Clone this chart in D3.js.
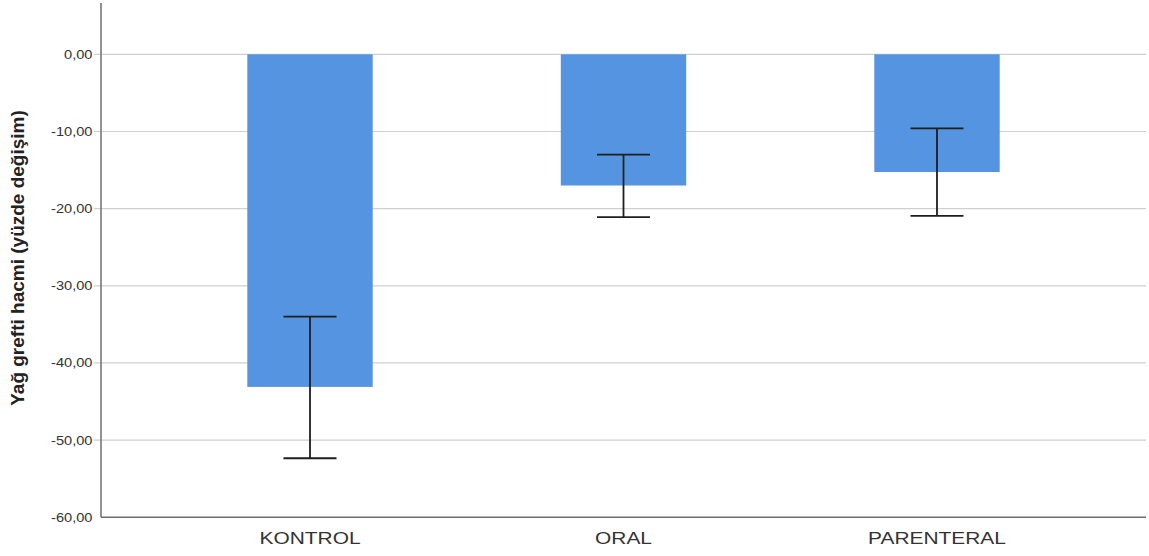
<!DOCTYPE html>
<html>
<head>
<meta charset="utf-8">
<script src="https://cdn.jsdelivr.net/npm/d3@7"></script>
<style>
  html, body { margin: 0; padding: 0; background: #fff; }
  svg { display: block; }
  text { font-family: "Liberation Sans", Arial, sans-serif; }
</style>
</head>
<body>
<svg id="chart" width="1149" height="556"></svg>
<script>
// Group means with their error-bar limits (percent change in fat graft volume)
const categories = ["KONTROL", "ORAL", "PARENTERAL"];
const meanValues = [-43.1, -17.0, -15.25];
const errorLow = [-52.35, -21.1, -20.95];
const errorHigh = [-34.0, -13.0, -9.6];
const tickValues = [0, -10, -20, -30, -40, -50, -60];
const yTitle = "Yağ grefti hacmi (yüzde değişim)";

const svg = d3.select("#chart");
const plot = { left: 101, right: 1146, top: 3, bottom: 517.3 };

const y = d3.scaleLinear().domain([-60, 6.65]).range([plot.bottom, plot.top]);
const x = d3.scaleBand()
  .domain(categories)
  .range([plot.left, plot.right])
  .paddingInner(0.6)
  .paddingOuter(0.4667);

const fmt = v => d3.format(".2f")(v).replace("−", "-").replace(".", ",");

// Horizontal gridlines
svg.append("g")
  .selectAll("line")
  .data(tickValues.filter(v => v !== -60))
  .join("line")
  .attr("x1", plot.left - 7)
  .attr("x2", plot.right)
  .attr("y1", d => y(d))
  .attr("y2", d => y(d))
  .attr("stroke", "#cfcfcf")
  .attr("stroke-width", 1.2);

// Bars
svg.append("g")
  .selectAll("rect")
  .data(categories)
  .join("rect")
  .attr("x", d => x(d))
  .attr("width", x.bandwidth())
  .attr("y", y(0))
  .attr("height", (d, i) => y(meanValues[i]) - y(0))
  .attr("fill", "#5594e1");

// Error bars
const eb = svg.append("g").attr("stroke", "#1e1e1e").attr("stroke-width", 1.8);
const capHalf = 26.5;
categories.forEach((c, i) => {
  const cx = x(c) + x.bandwidth() / 2;
  eb.append("line").attr("x1", cx).attr("x2", cx)
    .attr("y1", y(errorHigh[i])).attr("y2", y(errorLow[i]));
  eb.append("line").attr("x1", cx - capHalf).attr("x2", cx + capHalf)
    .attr("y1", y(errorHigh[i])).attr("y2", y(errorHigh[i]));
  eb.append("line").attr("x1", cx - capHalf).attr("x2", cx + capHalf)
    .attr("y1", y(errorLow[i])).attr("y2", y(errorLow[i]));
});

// Axis lines
svg.append("line")
  .attr("x1", plot.left).attr("x2", plot.left)
  .attr("y1", plot.top).attr("y2", plot.bottom)
  .attr("stroke", "#6e6e6e").attr("stroke-width", 1.5);
svg.append("line")
  .attr("x1", plot.left).attr("x2", plot.right)
  .attr("y1", plot.bottom).attr("y2", plot.bottom)
  .attr("stroke", "#6e6e6e").attr("stroke-width", 1.5);

// Y tick labels
svg.append("g")
  .selectAll("text")
  .data(tickValues)
  .join("text")
  .attr("transform", d => `translate(92.5,${y(d) + 4.5}) scale(1.17,1)`)
  .attr("text-anchor", "end")
  .attr("font-size", 12.5)
  .attr("fill", "#333")
  .text(d => fmt(d));

// Category labels
svg.append("g")
  .selectAll("text")
  .data(categories)
  .join("text")
  .attr("transform", d => `translate(${x(d) + x.bandwidth() / 2},544) scale(1.23,1)`)
  .attr("text-anchor", "middle")
  .attr("font-size", 17)
  .attr("fill", "#333")
  .text(d => d);

// Y axis title
svg.append("text")
  .attr("transform", "translate(24,258) rotate(-90)")
  .attr("text-anchor", "middle")
  .attr("font-size", 19)
  .attr("font-weight", "bold")
  .attr("fill", "#222")
  .text(yTitle);
</script>
</body>
</html>
